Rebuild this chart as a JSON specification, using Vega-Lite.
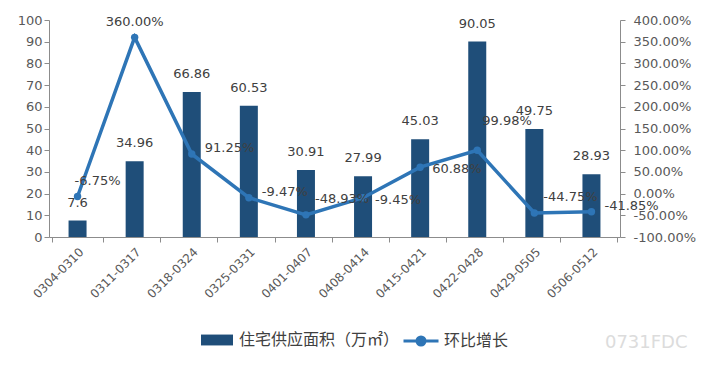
{
  "$schema": "https://vega.github.io/schema/vega-lite/v6.json",
  "width": 571,
  "height": 217,
  "autosize": "none",
  "padding": {"left": 49, "top": 20, "right": 89, "bottom": 130},
  "background": "white",
  "config": {
    "locale": {"number": {"decimal": ".", "thousands": ",", "grouping": [3], "currency": ["$", ""], "minus": "-"}},
    "view": {"stroke": null},
    "font": "DejaVu Sans",
    "axis": {"labelFont": "DejaVu Sans", "labelColor": "#595959", "labelFontSize": 13, "domainColor": "#8c8c8c", "tickColor": "#8c8c8c", "grid": false, "title": null, "tickSize": 5}
  },
  "title": {"text": "0731FDC", "orient": "bottom", "anchor": "end", "color": "#dcdcdc", "fontSize": 18, "font": "DejaVu Sans", "fontWeight": "normal", "offset": -18, "dx": -8},
  "data": {"values": [
    {"cat": "0304-0310", "area": 7.6, "pct": -0.0675},
    {"cat": "0311-0317", "area": 34.96, "pct": 3.6},
    {"cat": "0318-0324", "area": 66.86, "pct": 0.9125},
    {"cat": "0325-0331", "area": 60.53, "pct": -0.0947},
    {"cat": "0401-0407", "area": 30.91, "pct": -0.4893},
    {"cat": "0408-0414", "area": 27.99, "pct": -0.0945},
    {"cat": "0415-0421", "area": 45.03, "pct": 0.6088},
    {"cat": "0422-0428", "area": 90.05, "pct": 0.9998},
    {"cat": "0429-0505", "area": 49.75, "pct": -0.4475},
    {"cat": "0506-0512", "area": 28.93, "pct": -0.4185}
  ]},
  "encoding": {
    "x": {"field": "cat", "type": "nominal", "sort": null,
      "axis": {"labelAngle": -45, "labelFontSize": 12, "tickBand": "extent", "labelPadding": 4}}
  },
  "layer": [
    {
      "encoding": {"y": {"field": "area", "type": "quantitative", "scale": {"domain": [0, 100]}, "axis": {"values": [0,10,20,30,40,50,60,70,80,90,100], "orient": "left"}}},
      "layer": [
        {"mark": {"type": "bar", "size": 18},
         "encoding": {"fill": {"datum": "住宅供应面积（万㎡）", "type": "nominal", "scale": {"range": ["#1F4E79"]},
           "legend": {"orient": "none", "legendX": 152, "legendY": 304, "title": null, "symbolType": "M-1,-0.34H1V0.34H-1Z", "symbolSize": 1024, "labelOffset": 6, "labelLimit": 400, "labelFont": "Noto Sans CJK SC", "labelFontSize": 16, "labelColor": "#404040", "symbolStrokeWidth": 0}}}},
        {"mark": {"type": "text", "dy": -18, "fontSize": 13, "color": "#404040"},
         "encoding": {"text": {"field": "area", "type": "quantitative"}}}
      ]
    },
    {
      "encoding": {"y": {"field": "pct", "type": "quantitative", "scale": {"domain": [-1, 4]}, "axis": {"orient": "right", "format": ".2%", "labelPadding": 8, "values": [-1,-0.5,0,0.5,1,1.5,2,2.5,3,3.5,4]}}},
      "layer": [
        {"mark": {"type": "line", "strokeWidth": 3.5},
         "encoding": {"stroke": {"datum": "环比增长", "type": "nominal", "scale": {"range": ["#2E75B6"]},
           "legend": {"orient": "none", "legendX": 353, "legendY": 302, "title": null, "symbolType": "M-1,0H1M0.23,0A0.23,0.23,0,1,1,-0.23,0A0.23,0.23,0,1,1,0.23,0Z", "symbolSize": 1225, "symbolStrokeWidth": 3, "symbolFillColor": "#2E75B6", "labelOffset": 4, "labelLimit": 300, "labelFont": "Noto Sans CJK SC", "labelFontSize": 16, "labelColor": "#404040"}}}},
        {"mark": {"type": "point", "filled": true, "size": 55, "color": "#2E75B6", "opacity": 1}},
        {"transform": [{"filter": {"field": "cat", "oneOf": ["0318-0324", "0325-0331", "0506-0512"]}}],
         "mark": {"type": "text", "align": "left", "dx": 13, "dy": -6, "fontSize": 13, "color": "#404040"},
         "encoding": {"text": {"field": "pct", "type": "quantitative", "format": ".2%"}}},
        {"transform": [{"filter": {"field": "cat", "oneOf": ["0408-0414", "0415-0421"]}}],
         "mark": {"type": "text", "align": "left", "dx": 12, "dy": 2, "fontSize": 13, "color": "#404040"},
         "encoding": {"text": {"field": "pct", "type": "quantitative", "format": ".2%"}}},
        {"transform": [{"filter": {"field": "cat", "oneOf": ["0401-0407", "0429-0505"]}}],
         "mark": {"type": "text", "align": "left", "dx": 9, "dy": -16, "fontSize": 13, "color": "#404040"},
         "encoding": {"text": {"field": "pct", "type": "quantitative", "format": ".2%"}}},
        {"transform": [{"filter": {"field": "cat", "oneOf": ["0422-0428"]}}],
         "mark": {"type": "text", "align": "left", "dx": 5, "dy": -29, "fontSize": 13, "color": "#404040"},
         "encoding": {"text": {"field": "pct", "type": "quantitative", "format": ".2%"}}},
        {"transform": [{"filter": {"field": "cat", "oneOf": ["0304-0310"]}}],
         "mark": {"type": "text", "align": "left", "dx": -3, "dy": -16, "fontSize": 13, "color": "#404040"},
         "encoding": {"text": {"field": "pct", "type": "quantitative", "format": ".2%"}}},
        {"transform": [{"filter": {"field": "cat", "oneOf": ["0311-0317"]}}],
         "mark": {"type": "text", "align": "center", "dy": -15, "fontSize": 13, "color": "#404040"},
         "encoding": {"text": {"field": "pct", "type": "quantitative", "format": ".2%"}}}
      ]
    }
  ],
  "resolve": {"scale": {"y": "independent"}}
}
